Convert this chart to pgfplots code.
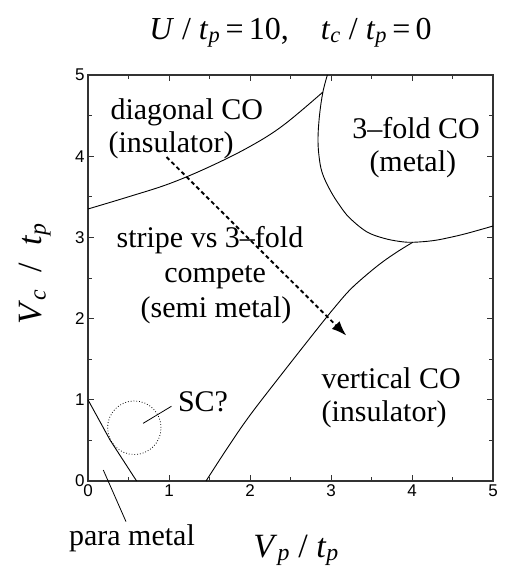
\documentclass[border=0pt]{standalone}
\usepackage{fontspec}
\setmainfont{Liberation Serif}
\newfontfamily\arialfont{Liberation Sans}
\usepackage{pgfplots}
\usepackage{pgfplotstable}
\pgfplotsset{compat=1.18}
\usetikzlibrary{arrows.meta}

\pgfplotstableread{
x y
0.00 3.35
0.50 3.50
1.00 3.66
1.50 3.87
2.00 4.12
2.41 4.38
2.90 4.79
}\diag

\pgfplotstableread{
x y
2.955 5.00
2.90 4.79
2.86 4.52
2.84 4.24
2.85 4.02
2.89 3.80
2.99 3.58
3.11 3.39
3.23 3.24
3.44 3.07
3.65 2.99
3.85 2.95
4.01 2.94
4.26 2.96
4.47 3.00
4.68 3.05
5.00 3.14
}\threefold

\pgfplotstableread{
x y
1.457 0.00
1.73 0.42
2.00 0.81
2.41 1.34
2.82 1.86
3.03 2.12
3.23 2.35
3.44 2.54
3.64 2.70
3.83 2.83
4.01 2.94
}\vertical

\pgfplotstableread{
x y
0.00 1.00
0.272 0.505
0.60 0.00
}\para

\newcommand{\lab}{\fontsize{30}{36}\selectfont}
\begin{document}
\begin{tikzpicture}
\path[use as bounding box] (-88pt,-93pt) rectangle (417pt,481pt);
\begin{axis}[
 at={(0,0)}, anchor=south west,
 scale only axis, width=405pt, height=406pt,
 xmin=0, xmax=5, ymin=0, ymax=5,
 xtick={0,1,2,3,4,5}, ytick={0,1,2,3,4,5},
 minor tick num=1,
 tick align=inside,
 major tick length=6pt, minor tick length=4pt,
 axis line style={line width=1.3pt, black!80},
 every tick/.style={black!80, line width=0.8pt},
 tick label style={font=\arialfont\fontsize{17}{17}\selectfont},
 /pgf/number format/assume math mode=true,
 clip=false,
 title={\textit{U} / \textit{t}\textsubscript{\textit{p}}\,=\,10,\quad \textit{t}\textsubscript{\textit{c}} / \textit{t}\textsubscript{\textit{p}}\,=\,0},
 title style={at={(0.5,1)}, anchor=base, yshift=30pt, font=\fontsize{32}{38}\selectfont},
 xlabel={\textit{V}\textsubscript{\textit{p}} / \textit{t}\textsubscript{\textit{p}}},
 xlabel style={at={(0.514,0)}, anchor=base, yshift=-76pt, font=\fontsize{34}{40}\selectfont},
 ylabel={\textit{V}\textsubscript{\textit{c}}\enspace/\enspace\textit{t}\textsubscript{\textit{p}}},
 ylabel style={at={(-0.1136,0.51)}, anchor=base, font=\fontsize{34}{40}\selectfont},
]
\addplot[black, line width=0.9pt, smooth, tension=0.6] table[x=x,y=y] {\diag};
\addplot[black, line width=0.9pt, smooth, tension=0.6] table[x=x,y=y] {\threefold};
\addplot[black, line width=0.9pt, smooth, tension=0.6] table[x=x,y=y] {\vertical};
\addplot[black, line width=0.9pt] table[x=x,y=y] {\para};
% pointers
\addplot[black, line width=0.8pt] coordinates {(0.68,0.71) (1.03,0.92)};
\addplot[black, line width=0.8pt] coordinates {(0.189,0.135) (0.469,-0.50)};
% arrow
\addplot[black, line width=1.9pt, dash pattern=on 4pt off 3pt, -{Latex[length=15pt,width=11pt]}] coordinates {(0.97,3.99) (3.19,1.79)};
\draw[black, dotted, line width=0.8pt] (axis cs:0.572,0.656) circle [radius=0.33];
% labels
\node[anchor=base west, font=\lab] at (axis cs:0.235,4.446) {diagonal CO};
\node[anchor=base west, font=\lab] at (axis cs:0.21,4.04) {(insulator)};
\node[anchor=base, font=\lab] at (axis cs:4.05,4.22) {3--fold CO};
\node[anchor=base, font=\lab] at (axis cs:4.01,3.81) {(metal)};
\node[anchor=base, font=\lab] at (axis cs:1.506,2.87) {stripe vs 3--fold};
\node[anchor=base, font=\lab] at (axis cs:1.57,2.44) {compete};
\node[anchor=base, font=\lab] at (axis cs:1.58,2.01) {(semi metal)};
\node[anchor=base west, font=\lab] at (axis cs:2.84,1.145) {vertical CO};
\node[anchor=base west, font=\lab] at (axis cs:2.84,0.727) {(insulator)};
\node[anchor=base, font=\lab] at (axis cs:1.42,0.85) {SC?};
\node[anchor=base, font=\lab] at (axis cs:0.543,-0.79) {para metal};
\end{axis}
\end{tikzpicture}
\end{document}
